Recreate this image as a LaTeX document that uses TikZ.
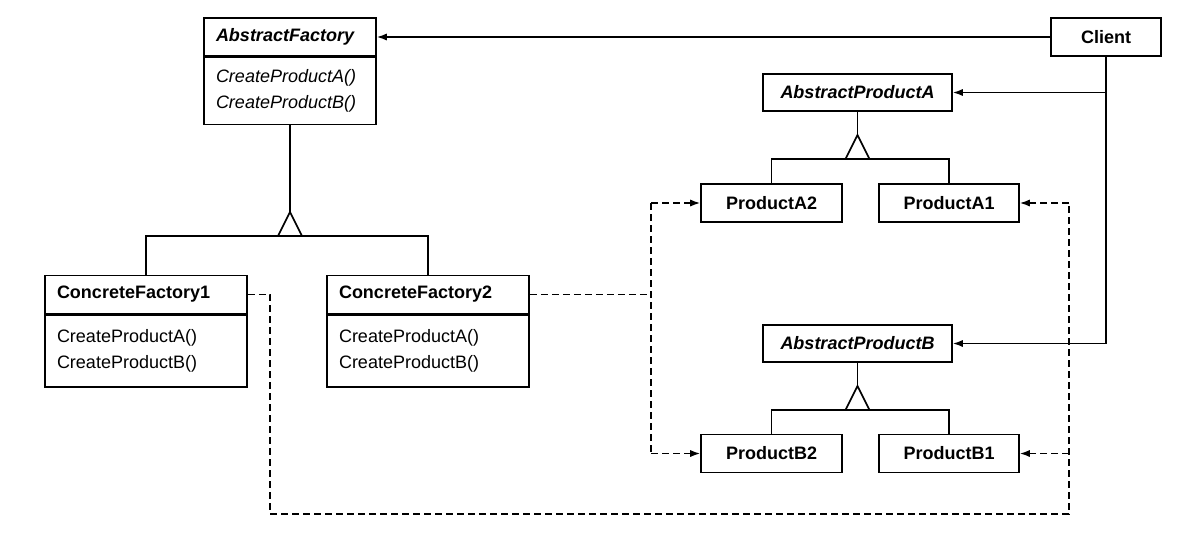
\documentclass[tikz,border=0pt]{standalone}
\usepackage{fontspec}
\setmainfont{Liberation Sans}
\usetikzlibrary{arrows.meta,positioning}

\begin{document}
\begin{tikzpicture}[x=0.5pt, y=-0.5pt,
  cls/.style={rectangle, draw, line width=0.8pt, minimum height=19pt,
    inner sep=0pt, font=\fontsize{9}{13}\selectfont\bfseries},
  head/.style={cls, align=left, text width=#1, inner xsep=6pt},
  body/.style={rectangle, draw, line width=0.8pt, align=left, text width=#1,
    inner xsep=6pt, inner ysep=0pt, font=\fontsize{9}{13}\selectfont},
  inherit/.style={line width=0.8pt},
  dashln/.style={line width=0.8pt, dash pattern=on 3.5pt off 2pt},
  assoc/.style={-{Latex[length=5pt,width=3.6pt]}, line width=0.8pt},
  dep/.style={assoc, dashln}
]
\useasboundingbox (0,0) rectangle (1193,537);

\node[cls, minimum width=55pt] (client) at (1106,37) {Client};

\node[head=74pt] (af) at (290,37) {\textit{AbstractFactory}};
\node[body=74pt, minimum height=33.5pt, below=0pt of af] (afops)
  {\textit{CreateProductA()}\\\textit{CreateProductB()}};

\node[head=89pt] (cf1) at (146,294.5) {ConcreteFactory1};
\node[body=89pt, minimum height=36pt, below=0pt of cf1] (cf1ops)
  {CreateProductA()\\CreateProductB()};
\node[head=89pt] (cf2) at (428,294.5) {ConcreteFactory2};
\node[body=89pt, minimum height=36pt, below=0pt of cf2] (cf2ops)
  {CreateProductA()\\CreateProductB()};

\node[cls, minimum width=94.5pt, minimum height=18.5pt] (apa) at (857.5,92.5) {\textit{AbstractProductA}};
\node[cls, minimum width=70.5pt] (pa2) at (771.5,203) {ProductA2};
\node[cls, minimum width=70pt] (pa1) at (949,203) {ProductA1};

\node[cls, minimum width=94.5pt, minimum height=18.5pt] (apb) at (857.5,343.5) {\textit{AbstractProductB}};
\node[cls, minimum width=70.5pt] (pb2) at (771.5,453.5) {ProductB2};
\node[cls, minimum width=70pt] (pb1) at (949,453.5) {ProductB1};

\coordinate (gf) at (290,236);
\coordinate (ga) at (857.5,159);
\coordinate (gb) at (857.5,410);

\draw[inherit] (afops.south) -- ([yshift=12pt]gf);
\draw[inherit] (cf1.north) |- (gf) -| (cf2.north);
\draw[inherit, fill=white] ([xshift=-6pt]gf) -- ([yshift=12pt]gf) -- ([xshift=6pt]gf) -- cycle;

\draw[inherit] (apa.south) -- ([yshift=12pt]ga);
\draw[inherit] (pa2.north) |- (ga) -| (pa1.north);
\draw[inherit, fill=white] ([xshift=-6pt]ga) -- ([yshift=12pt]ga) -- ([xshift=6pt]ga) -- cycle;

\draw[inherit] (apb.south) -- ([yshift=12pt]gb);
\draw[inherit] (pb2.north) |- (gb) -| (pb1.north);
\draw[inherit, fill=white] ([xshift=-6pt]gb) -- ([yshift=12pt]gb) -- ([xshift=6pt]gb) -- cycle;

\draw[assoc] (client.west) -- (af.east);
\draw[assoc] (client.south) |- (apb.east);
\draw[assoc] (client.south |- apa.east) -- (apa.east);

\coordinate (d2) at (651,0);
\coordinate (d1) at (270,514);
\coordinate (d3) at (1069,514);

\draw[dashln] (cf2.east) -- (cf2.east -| d2);
\draw[dashln] (pa2.west -| d2) -- (pb2.west -| d2);
\draw[dep] (pa2.west -| d2) -- (pa2.west);
\draw[dep] (pb2.west -| d2) -- (pb2.west);

\draw[dashln] (cf1.east) -| (d1) -| (pa1.east -| d3);
\draw[dep] (pa1.east -| d3) -- (pa1.east);
\draw[dep] (pb1.east -| d3) -- (pb1.east);
\end{tikzpicture}
\end{document}
